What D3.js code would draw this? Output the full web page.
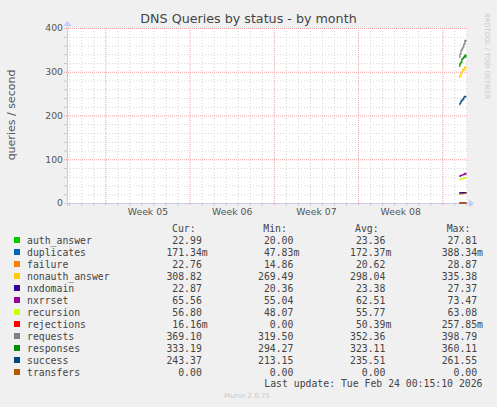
<!DOCTYPE html>
<html>
  <head>
    <style>
      body { margin: 0; background: #f0f0f0; }
      text { font-family: "DejaVu Sans", sans-serif; }
      .mono { font-family: "DejaVu Sans Mono", monospace; }
    </style>
  </head>
  <body>
    <svg id="chart"></svg>
  </body>
</html>

<script src="https://d3js.org/d3.v7.min.js"></script>

<script>
  const WIDTH = 497
  const HEIGHT = 407

  // sample times (2 hour steps, last day only)
  const times = ['2026-02-23T10:00Z', '2026-02-23T12:00Z', '2026-02-23T14:00Z', '2026-02-23T16:00Z',
                 '2026-02-23T18:00Z', '2026-02-23T20:00Z', '2026-02-23T22:00Z', '2026-02-24T00:00Z']

  const names = ['auth_answer', 'duplicates', 'failure', 'nonauth_answer', 'nxdomain', 'nxrrset',
                 'recursion', 'rejections', 'requests', 'responses', 'success', 'transfers']
  const colors = ['#00cc00', '#0066b3', '#ff8000', '#ffcc00', '#330099', '#990099',
                  '#ccff00', '#ff0000', '#808080', '#008f00', '#00487d', '#b35a00']

  const auth_answer    = [22.1, 23.0, 23.4, 22.6, 23.2, 24.0, 23.5, 22.99]
  const duplicates     = [0.15, 0.20, 0.17, 0.19, 0.16, 0.18, 0.17, 0.171]
  const failure        = [20.4, 21.2, 21.0, 22.1, 21.5, 22.3, 23.0, 22.76]
  const nonauth_answer = [287, 290, 295, 300, 306, 304, 311, 308.82]
  const nxdomain       = [22.3, 23.1, 23.3, 24.0, 23.2, 23.8, 23.4, 22.87]
  const nxrrset        = [61, 62, 63, 64, 64.5, 66, 67.5, 65.56]
  const recursion      = [53, 54, 55, 55.5, 56, 57, 58, 56.80]
  const rejections     = [0, 0.02, 0, 0.05, 0.01, 0, 0.02, 0.016]
  const requests       = [333, 340, 348, 352, 357, 363, 372, 369.10]
  const responses      = [312, 318, 322, 329, 331, 334, 338, 333.19]
  const success        = [225, 228, 233, 235, 238, 242, 244, 243.37]
  const transfers      = [0, 0, 0, 0, 0, 0, 0, 0]
  const series = [auth_answer, duplicates, failure, nonauth_answer, nxdomain, nxrrset,
                  recursion, rejections, requests, responses, success, transfers]

  // legend values as munin prints them
  const curVals = ['22.99', '171.34m', '22.76', '308.82', '22.87', '65.56', '56.80', '16.16m', '369.10', '333.19', '243.37', '0.00']
  const minVals = ['20.00', '47.83m', '14.86', '269.49', '20.36', '55.04', '48.07', '0.00', '319.50', '294.27', '213.15', '0.00']
  const avgVals = ['23.36', '172.37m', '20.62', '298.04', '23.38', '62.51', '55.77', '50.39m', '352.36', '323.11', '235.51', '0.00']
  const maxVals = ['27.81', '388.34m', '28.87', '335.38', '27.37', '73.47', '63.08', '257.85m', '398.79', '360.11', '261.55', '0.00']

  const yTicks = [0, 100, 200, 300, 400]

  let svg = d3.select('#chart')
    .attr('width', WIDTH)
    .attr('height', HEIGHT)

  svg.append('rect')
    .attr('width', WIDTH)
    .attr('height', HEIGHT)
    .attr('fill', '#f0f0f0')

  const x = d3.scaleUtc()
    .domain([new Date(Date.UTC(2026, 0, 21, 19, 40)), new Date(Date.UTC(2026, 1, 24, 1, 15))])
    .range([67, 467])
  const y = d3.scaleLinear()
    .domain([0, 400])
    .range([203, 28])

  // plot background
  svg.append('rect')
    .attr('x', 67)
    .attr('y', 28)
    .attr('width', 400)
    .attr('height', 175)
    .attr('fill', 'white')

  // grid
  let grid = svg.append('g')
  let days = d3.utcDay.range(x.domain()[0], x.domain()[1])
  let weeks = d3.utcSunday.range(x.domain()[0], x.domain()[1])
  let weekKeys = weeks.map(d => +d)
  days.filter(d => weekKeys.indexOf(+d) < 0).forEach(function(d) {
    grid.append('line')
      .attr('x1', x(d) + 0.5).attr('x2', x(d) + 0.5)
      .attr('y1', 28).attr('y2', 203)
      .attr('stroke', '#d4d4d4').attr('stroke-dasharray', '1,2')
    grid.append('line')
      .attr('x1', x(d) + 0.5).attr('x2', x(d) + 0.5)
      .attr('y1', 203).attr('y2', 206)
      .attr('stroke', '#c8c8c8')
  })
  d3.range(20, 401, 20).filter(v => v % 100 != 0).forEach(function(v) {
    grid.append('line')
      .attr('x1', 67).attr('x2', 467)
      .attr('y1', y(v) + 0.5).attr('y2', y(v) + 0.5)
      .attr('stroke', '#d4d4d4').attr('stroke-dasharray', '1,2')
    grid.append('line')
      .attr('x1', 64).attr('x2', 67)
      .attr('y1', y(v) + 0.5).attr('y2', y(v) + 0.5)
      .attr('stroke', '#c8c8c8')
  })
  weeks.forEach(function(d) {
    grid.append('line')
      .attr('x1', x(d) + 0.5).attr('x2', x(d) + 0.5)
      .attr('y1', 28).attr('y2', 206)
      .attr('stroke', '#f0a0a0').attr('stroke-dasharray', '1,1')
  })
  yTicks.filter(v => v > 0).forEach(function(v) {
    grid.append('line')
      .attr('x1', 64).attr('x2', 467)
      .attr('y1', y(v) + 0.5).attr('y2', y(v) + 0.5)
      .attr('stroke', '#f0a0a0').attr('stroke-dasharray', '1,1')
  })

  // axes lines and arrows
  svg.append('line')
    .attr('x1', 64).attr('x2', 470)
    .attr('y1', 203.5).attr('y2', 203.5)
    .attr('stroke', '#c8c8f0')
  svg.append('line')
    .attr('x1', 67.5).attr('x2', 67.5)
    .attr('y1', 206).attr('y2', 25)
    .attr('stroke', '#c8c8f0')
  svg.append('polygon')
    .attr('points', '469,199.5 474,203.5 469,207.5')
    .attr('fill', '#c0ccff')
  svg.append('polygon')
    .attr('points', '63.5,26 67.5,21 71.5,26')
    .attr('fill', '#c0ccff')

  // y tick labels
  let yAxis = svg.append('g')
    .attr('transform', 'translate(63,0)')
    .call(d3.axisLeft(y).tickValues(yTicks).tickSize(0).tickPadding(0))
  yAxis.select('.domain').remove()
  yAxis.selectAll('text')
    .attr('font-family', 'DejaVu Sans')
    .attr('font-size', '9.3px')
    .attr('fill', '#555')

  // week labels
  let mids = weeks.map(d => d3.utcHour.offset(d, 84)).filter(d => d < x.domain()[1])
  let xAxis = svg.append('g')
    .attr('transform', 'translate(0,208)')
    .call(d3.axisBottom(x).tickValues(mids).tickFormat(d3.utcFormat('Week %V')).tickSize(0).tickPadding(0))
  xAxis.select('.domain').remove()
  xAxis.selectAll('text')
    .attr('font-family', 'DejaVu Sans')
    .attr('font-size', '9.3px')
    .attr('fill', '#555')

  // data lines
  let dates = times.map(t => new Date(t))
  let line = d3.line()
    .x((d, i) => x(dates[i]))
    .y(d => y(d))
    .curve(d3.curveStep)
  series.forEach(function(s, i) {
    svg.append('path')
      .attr('d', line(s))
      .attr('fill', 'none')
      .attr('stroke', colors[i])
      .attr('stroke-width', 1.2)
  })

  // titles
  svg.append('text')
    .attr('x', 248.5).attr('y', 23)
    .attr('text-anchor', 'middle')
    .attr('font-size', '12.7px')
    .attr('fill', '#444')
    .text('DNS Queries by status - by month')
  svg.append('text')
    .attr('transform', 'translate(15,115) rotate(-90)')
    .attr('text-anchor', 'middle')
    .attr('font-size', '11px')
    .attr('fill', '#555')
    .text('queries / second')
  svg.append('text')
    .attr('transform', 'translate(484.5,13) rotate(90)')
    .attr('font-size', '6.7px')
    .attr('fill', '#c8c8c8')
    .text('RRDTOOL / TOBI OETIKER')

  // legend
  let legend = svg.append('g').attr('class', 'mono')
  const FS = '9.8px'
  let heads = [['Cur:', 172], ['Min:', 263.3], ['Avg:', 355], ['Max:', 446.7]]
  heads.forEach(function(h) {
    legend.append('text')
      .attr('class', 'mono')
      .attr('x', h[1]).attr('y', 231.5)
      .attr('font-size', FS).attr('fill', '#444')
      .text(h[0])
  })
  let cols = [[curVals, 207.7], [minVals, 299.3], [avgVals, 391.3], [maxVals, 483]]
  names.forEach(function(n, i) {
    let cy = 240 + 12 * i
    legend.append('rect')
      .attr('x', 14).attr('y', cy - 3)
      .attr('width', 6).attr('height', 6)
      .attr('fill', colors[i])
    legend.append('text')
      .attr('class', 'mono')
      .attr('x', 27).attr('y', cy + 3.5)
      .attr('font-size', FS).attr('fill', '#444')
      .text(n)
    cols.forEach(function(c) {
      let v = c[0][i]
      legend.append('text')
        .attr('class', 'mono')
        .attr('x', c[1]).attr('y', cy + 3.5)
        .attr('text-anchor', 'end')
        .attr('font-size', FS).attr('fill', '#444')
        .text(v.endsWith('m') ? v : v + '\u00a0')
    })
  })
  legend.append('text')
    .attr('class', 'mono')
    .attr('x', 482.5).attr('y', 387)
    .attr('text-anchor', 'end')
    .attr('font-size', FS).attr('fill', '#444')
    .text('Last update: Tue Feb 24 00:15:10 2026')

  svg.append('text')
    .attr('x', 247).attr('y', 398)
    .attr('text-anchor', 'middle')
    .attr('font-size', '7px')
    .attr('fill', '#c8c8c8')
    .text('Munin 2.0.75')
</script>
